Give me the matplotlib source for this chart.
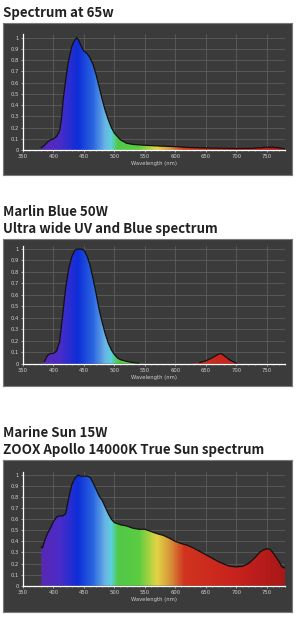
import numpy as np
import matplotlib
matplotlib.use('Agg')
import matplotlib.pyplot as plt
from matplotlib.colors import LinearSegmentedColormap

# spectrum at 65w
wl_65 = [380, 385, 390, 395, 400, 405, 410, 413, 416, 420, 424, 427, 430, 434, 438, 441, 445,
         450, 455, 460, 465, 470, 475, 480, 485, 490, 495, 500, 505, 510, 520, 530, 550,
         575, 600, 625, 650, 675, 700, 725, 740, 750, 760, 770, 780]
val_65 = [0.02, 0.04, 0.07, 0.09, 0.10, 0.12, 0.17, 0.27, 0.45, 0.62, 0.77, 0.85, 0.92, 0.97, 1.0, 0.98, 0.93,
          0.88, 0.86, 0.82, 0.76, 0.67, 0.56, 0.45, 0.35, 0.27, 0.20, 0.15, 0.12, 0.09, 0.06, 0.05, 0.042,
          0.035, 0.03, 0.022, 0.018, 0.016, 0.013, 0.015, 0.02, 0.025, 0.025, 0.02, 0.01]

# marlin blue 50W
wl_mb = [380, 385, 390, 395, 400, 405, 410, 415, 420, 425, 430, 435, 440, 445, 450, 455, 460,
         465, 470, 475, 480, 485, 490, 495, 500, 505, 510, 520, 530, 540, 550, 600, 625,
         640, 650, 660, 670, 675, 680, 690, 700, 705, 780]
val_mb = [0.0, 0.02, 0.07, 0.09, 0.09, 0.11, 0.19, 0.42, 0.66, 0.83, 0.93, 0.99, 1.0, 1.0, 0.99, 0.94, 0.86,
          0.74, 0.61, 0.47, 0.36, 0.26, 0.18, 0.12, 0.08, 0.05, 0.035, 0.02, 0.01, 0.003, 0.0, 0.0, 0.0,
          0.01, 0.025, 0.05, 0.08, 0.09, 0.07, 0.03, 0.005, 0.0, 0.0]

# marine sun 15W
wl_ms = [380, 382, 385, 390, 395, 400, 405, 410, 415, 420, 425, 430, 435, 440, 445, 450, 455, 460,
         465, 470, 475, 480, 485, 490, 495, 500, 510, 520, 530, 540, 550, 560, 570, 580, 590,
         600, 610, 620, 630, 640, 650, 660, 670, 680, 690, 700, 710, 720, 730, 740, 750, 755,
         760, 770, 775, 780]
val_ms = [0.35, 0.34, 0.40, 0.47, 0.52, 0.58, 0.62, 0.63, 0.63, 0.65, 0.79, 0.91, 0.97, 1.0, 0.99, 0.99, 0.99, 0.98,
          0.93, 0.87, 0.81, 0.77, 0.71, 0.65, 0.60, 0.57, 0.55, 0.54, 0.52, 0.51, 0.51, 0.49, 0.47, 0.455, 0.43,
          0.40, 0.38, 0.365, 0.34, 0.31, 0.28, 0.25, 0.22, 0.195, 0.175, 0.17, 0.175, 0.20, 0.25, 0.31, 0.335, 0.33,
          0.30, 0.22, 0.17, 0.16]

xticks = [350, 400, 450, 500, 550, 600, 650, 700, 750]
yticks = [0, 0.1, 0.2, 0.3, 0.4, 0.5, 0.6, 0.7, 0.8, 0.9, 1]
ylabels = ['0', '0.1', '0.2', '0.3', '0.4', '0.5', '0.6', '0.7', '0.8', '0.9', '1']

# colour of the light by wavelength
spec_wl = [380, 410, 440, 465, 485, 495, 505, 540, 570, 590, 615, 700, 780]
spec_col = ['#5a28b4', '#4a2cc8', '#0e2ed8', '#2a66e0', '#6cb4e4', '#5ad2dc', '#52c84a', '#5acc40',
            '#e2d444', '#d89a3c', '#d0341e', '#c8221e', '#a81818']
cmap = LinearSegmentedColormap.from_list(
    'spec', [((w - 380) / 400, c) for w, c in zip(spec_wl, spec_col)])

W, H = 300, 619
fig = plt.figure(figsize=(W / 100, H / 100), dpi=100)
fig.patch.set_facecolor('white')

title_font = ['Noto Sans CJK JP', 'DejaVu Sans']


def px(x0, y0, x1, y1):
    # pixel box (top-left origin) -> figure fraction
    return [x0 / W, 1 - y1 / H, (x1 - x0) / W, (y1 - y0) / H]


def panel(box_top, box_bot, y0, unit, wl, val, titles, baselines):
    for t, b in zip(titles, baselines):
        fig.text(3 / W, 1 - b / H, t, fontsize=9.6, fontweight='bold', color='#222222',
                 family=title_font, va='baseline', ha='left')

    bg = fig.add_axes(px(3, box_top, 292, box_bot))
    bg.set_facecolor('#3b3b3b')
    bg.set_xticks([])
    bg.set_yticks([])
    for s in bg.spines.values():
        s.set_color('#7a7a7a')
        s.set_linewidth(0.8)

    ytop = 1.03
    ax = fig.add_axes(px(23, y0 - ytop * unit, 285, y0))
    ax.patch.set_alpha(0)
    ax.set_xlim(350, 780)
    ax.set_ylim(0, ytop)

    wl = np.array(wl, dtype=float)
    val = np.array(val, dtype=float)
    poly = ax.fill_between(wl, 0, val, color='none', lw=0)
    grad = np.linspace(0, 1, 400).reshape(1, -1)
    im = ax.imshow(grad, cmap=cmap, extent=[380, 780, 0, ytop], aspect='auto',
                   origin='lower', zorder=2)
    path = poly.get_paths()[0]
    im.set_clip_path(path, transform=ax.transData)
    ax.plot(wl, np.ma.masked_where(val <= 0.0, val), color='#111111', lw=0.9, zorder=3)

    ax.set_xticks(xticks)
    ax.set_xticks(np.arange(350, 781, 10), minor=True)
    ax.set_yticks(yticks)
    ax.set_yticklabels(ylabels)
    ax.grid(True, color='#626262', lw=0.5, zorder=0)
    ax.set_axisbelow(True)
    ax.tick_params(colors='#d0d0d0', labelsize=3.8, length=1.5, width=0.5, pad=1.5)
    ax.tick_params(which='minor', colors='#d0d0d0', length=1, width=0.4)
    for s in ['top', 'right']:
        ax.spines[s].set_visible(False)
    for s in ['left', 'bottom']:
        ax.spines[s].set_color('white')
        ax.spines[s].set_linewidth(0.9)
        ax.spines[s].set_zorder(4)
    ax.set_xlabel('Wavelength (nm)', fontsize=3.8, color='#d0d0d0', labelpad=1.5)


panel(23.3, 175, 150, 112.3, wl_65, val_65, ['Spectrum at 65w'], [16.7])
panel(238.7, 386, 363.7, 114.7, wl_mb, val_mb,
      ['Marlin Blue 50W', 'Ultra wide UV and Blue spectrum'], [215.7, 232.7])
panel(460, 612, 585.7, 110.7, wl_ms, val_ms,
      ['Marine Sun 15W', 'ZOOX Apollo 14000K True Sun spectrum'], [436.7, 454])

fig.savefig('out.png', dpi=100, facecolor='white')
